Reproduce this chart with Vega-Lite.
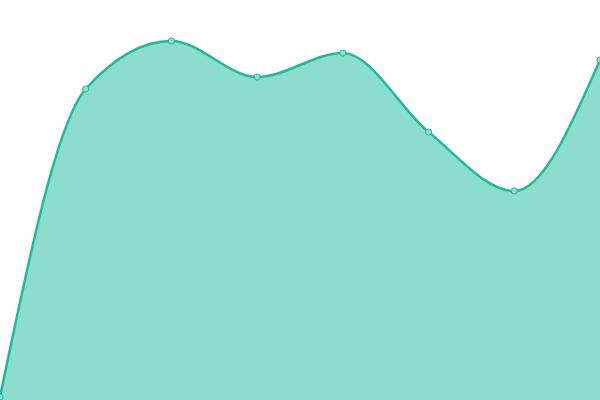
{
  "$schema": "https://vega.github.io/schema/vega-lite/v6.json",
  "width": 600,
  "height": 400,
  "padding": 0,
  "autosize": {"type": "none"},
  "background": "white",
  "config": {"view": {"stroke": null}},
  "data": {
    "values": [
      {"i": 0, "v": 3},
      {"i": 1, "v": 311},
      {"i": 2, "v": 359},
      {"i": 3, "v": 323},
      {"i": 4, "v": 347},
      {"i": 5, "v": 268},
      {"i": 6, "v": 209},
      {"i": 7, "v": 340}
    ]
  },
  "encoding": {
    "x": {"field": "i", "type": "quantitative", "axis": null, "scale": {"domain": [0, 7], "nice": false, "zero": false}},
    "y": {"field": "v", "type": "quantitative", "axis": null, "scale": {"domain": [0, 400], "nice": false}}
  },
  "layer": [
    {"mark": {"type": "area", "interpolate": "monotone", "color": "#1abc9c", "opacity": 0.5}},
    {"mark": {"type": "line", "interpolate": "monotone", "color": "#1abc9c", "strokeWidth": 2.5}},
    {"mark": {"type": "point", "filled": true, "fill": "#8ee0d0", "stroke": "#1abc9c", "strokeWidth": 1, "size": 38, "opacity": 1}}
  ]
}
